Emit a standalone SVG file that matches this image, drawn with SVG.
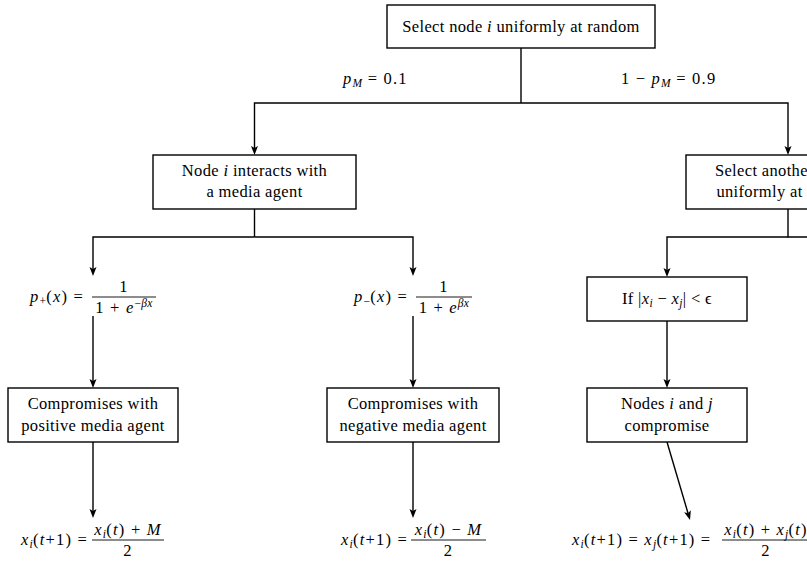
<svg xmlns="http://www.w3.org/2000/svg" width="807" height="561" viewBox="0 0 807 561">
<defs>
<marker id="arr" markerUnits="userSpaceOnUse" markerWidth="10" markerHeight="10" refX="4" refY="5" orient="auto">
<path d="M0,1.5 L9,5 L0,8.5 L2,5 Z" fill="#000"/>
</marker>
</defs>
<style>
text { font-family: "Liberation Serif", "DejaVu Serif", serif; font-size: 16.5px; letter-spacing: 0.35px; fill: #000; }
text.f { letter-spacing: 1.2px; }
.box { fill: #fff; stroke: #000; stroke-width: 1.4; }
.c { fill: none; stroke: #000; stroke-width: 1.4; }
.a { marker-end: url(#arr); }
.m { text-anchor: middle; }
.e { text-anchor: end; }
.i { font-style: italic; }
.s { font-size: 11.5px; letter-spacing: 0.3px; }
.bar { stroke: #000; stroke-width: 0.9; }
</style>
<rect width="807" height="561" fill="#fff"/>

<g id="connectors">
<path class="c" d="M521,48 V103"/>
<path class="c a" d="M521,103 H254.5 V150"/>
<path class="c a" d="M521,103 H788 V150"/>
<path class="c" d="M254.5,209 V237"/>
<path class="c a" d="M254.5,237 H93 V271"/>
<path class="c a" d="M254.5,237 H413 V271"/>
<path class="c" d="M788,209 V237 H812"/>
<path class="c a" d="M788,237 H667 V272"/>
<path class="c a" d="M93,316 V383"/>
<path class="c a" d="M413,316 V383"/>
<path class="c a" d="M667,321 V383"/>
<path class="c a" d="M93,442 V513"/>
<path class="c a" d="M413,442 V513"/>
<path class="c a" d="M667,442 L688.6,515.2"/>
</g>

<g id="label-pm">
<text class="f" x="343" y="84"><tspan class="i">p</tspan><tspan class="s i" dy="3">M</tspan><tspan dy="-3"> = 0.1</tspan></text>
</g>
<g id="label-1-pm">
<text class="f" x="621" y="84">1 − <tspan class="i">p</tspan><tspan class="s i" dy="3">M</tspan><tspan dy="-3"> = 0.9</tspan></text>
</g>

<g id="select-node">
<rect class="box" x="387" y="5" width="268" height="43"/>
<text x="521" y="32" class="m">Select node <tspan class="i">i</tspan> uniformly at random</text>
</g>

<g id="media-interaction">
<rect class="box" x="153" y="155" width="203" height="54"/>
<text x="254.5" y="176" class="m">Node <tspan class="i">i</tspan> interacts with</text>
<text x="254.5" y="197" class="m">a media agent</text>
</g>

<g id="select-another">
<rect class="box" x="686" y="155" width="204" height="54"/>
<text x="788" y="176" class="m">Select another node <tspan class="i">j</tspan></text>
<text x="788" y="197" class="m">uniformly at random</text>
</g>

<g id="p-plus">
<text x="84" y="302" class="e f"><tspan class="i">p</tspan><tspan class="s" dy="3">+</tspan><tspan dy="-3">(</tspan><tspan class="i">x</tspan>) =</text>
<text x="124" y="292" class="m f">1</text>
<line class="bar" x1="92" y1="297" x2="156" y2="297"/>
<text x="124" y="313" class="m f">1 + <tspan class="i">e</tspan><tspan class="s" dy="-6">−<tspan class="i">βx</tspan></tspan></text>
</g>

<g id="p-minus">
<text x="408" y="302" class="e f"><tspan class="i">p</tspan><tspan class="s" dy="3">−</tspan><tspan dy="-3">(</tspan><tspan class="i">x</tspan>) =</text>
<text x="444" y="292" class="m f">1</text>
<line class="bar" x1="416" y1="297" x2="472" y2="297"/>
<text x="444" y="313" class="m f">1 + <tspan class="i">e</tspan><tspan class="s i" dy="-6">βx</tspan></text>
</g>

<g id="bounded-condition">
<rect class="box" x="587" y="277" width="160" height="44"/>
<text x="667" y="304" class="m">If |<tspan class="i">x</tspan><tspan class="s i" dy="3">i</tspan><tspan dy="-3"> − </tspan><tspan class="i">x</tspan><tspan class="s i" dy="3">j</tspan><tspan dy="-3">| &lt; ϵ</tspan></text>
</g>

<g id="positive-compromise">
<rect class="box" x="8" y="388" width="170" height="54"/>
<text x="93" y="409" class="m">Compromises with</text>
<text x="93" y="431" class="m">positive media agent</text>
</g>

<g id="negative-compromise">
<rect class="box" x="327" y="388" width="172" height="54"/>
<text x="413" y="409" class="m">Compromises with</text>
<text x="413" y="431" class="m">negative media agent</text>
</g>

<g id="nodes-compromise">
<rect class="box" x="587" y="388" width="160" height="54"/>
<text x="667" y="409" class="m">Nodes <tspan class="i">i</tspan> and <tspan class="i">j</tspan></text>
<text x="667" y="431" class="m">compromise</text>
</g>

<g id="update-positive">
<text x="88" y="545" class="e f"><tspan class="i">x</tspan><tspan class="s i" dy="3">i</tspan><tspan dy="-3">(</tspan><tspan class="i">t</tspan>+1) =</text>
<text x="128" y="535" class="m f"><tspan class="i">x</tspan><tspan class="s i" dy="3">i</tspan><tspan dy="-3">(</tspan><tspan class="i">t</tspan>) + <tspan class="i">M</tspan></text>
<line class="bar" x1="92" y1="540" x2="164" y2="540"/>
<text x="128" y="556" class="m f">2</text>
</g>

<g id="update-negative">
<text x="408" y="545" class="e f"><tspan class="i">x</tspan><tspan class="s i" dy="3">i</tspan><tspan dy="-3">(</tspan><tspan class="i">t</tspan>+1) =</text>
<text x="448.5" y="535" class="m f"><tspan class="i">x</tspan><tspan class="s i" dy="3">i</tspan><tspan dy="-3">(</tspan><tspan class="i">t</tspan>) − <tspan class="i">M</tspan></text>
<line class="bar" x1="411" y1="540" x2="486" y2="540"/>
<text x="448.5" y="556" class="m f">2</text>
</g>

<g id="update-pair">
<text x="572" y="545" class="f"><tspan class="i">x</tspan><tspan class="s i" dy="3">i</tspan><tspan dy="-3">(</tspan><tspan class="i">t</tspan>+1) = <tspan class="i">x</tspan><tspan class="s i" dy="3">j</tspan><tspan dy="-3">(</tspan><tspan class="i">t</tspan>+1) =</text>
<text x="766" y="535" class="m f"><tspan class="i">x</tspan><tspan class="s i" dy="3">i</tspan><tspan dy="-3">(</tspan><tspan class="i">t</tspan>) + <tspan class="i">x</tspan><tspan class="s i" dy="3">j</tspan><tspan dy="-3">(</tspan><tspan class="i">t</tspan>)</text>
<line class="bar" x1="722" y1="540" x2="810" y2="540"/>
<text x="766" y="556" class="m f">2</text>
</g>
</svg>
